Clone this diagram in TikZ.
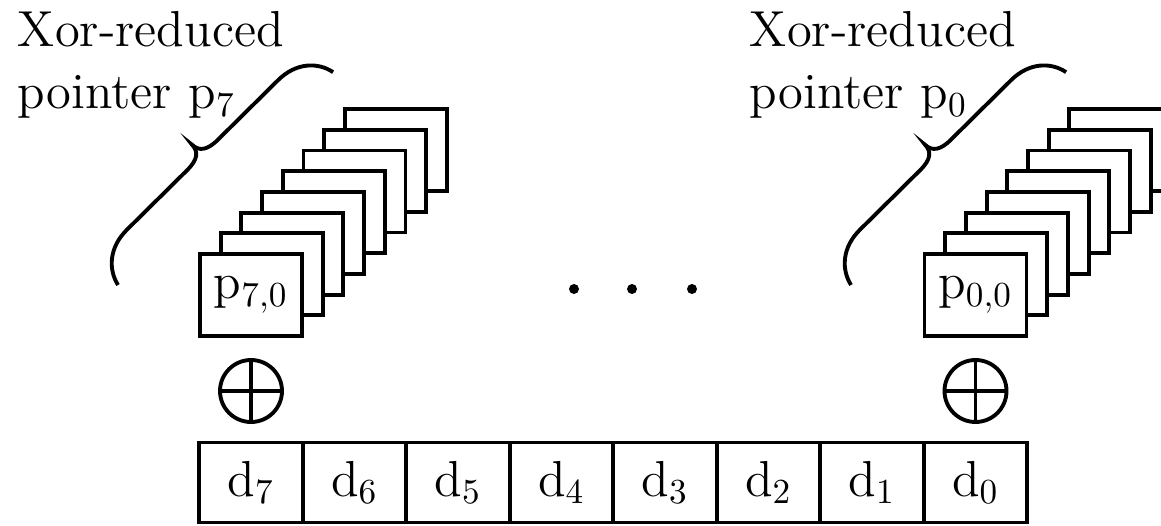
\documentclass[tikz,border=0pt]{standalone}
\begin{document}
\begin{tikzpicture}[line width=1.1pt, font=\fontsize{14.4}{17.9}\selectfont,
  ptrbox/.style={draw, fill=white, minimum width=1.02cm, minimum height=0.82cm, inner sep=0pt},
  cell/.style={draw, minimum width=1.035cm, minimum height=0.80cm, inner sep=0pt, outer sep=0pt},
  xorop/.style={draw, circle, minimum size=0.62cm, inner sep=0pt,
    path picture={\draw (path picture bounding box.north) -- (path picture bounding box.south)
      (path picture bounding box.west) -- (path picture bounding box.east);}}]
  \useasboundingbox (0,0) rectangle (11.61,5.25);
  \clip (0,0) rectangle (11.61,5.25);
  % data word
  \foreach \i in {0,...,7}
    \node[cell] (d\i) at ({2.51+1.035*(7-\i)}, 0.425) {d$_\i$};
  % stacks of pointer words
  \foreach \s/\x in {7/2.51, 0/9.755} {
    \foreach \k in {7,...,1}
      \node[ptrbox] (p\s-\k) at ({\x+0.207*\k}, {2.30+0.207*\k}) {};
    \node[ptrbox] (p\s-0) at (\x, 2.30) {p$_{\s,0}$};
    \node[xorop] (x\s) at (\x, 1.34) {};
  }
  \foreach \x in {5.74, 6.32, 6.92}
    \fill (\x, 2.36) circle (0.05);
  % braces
  \foreach \bx in {1.18, 8.51}
    \draw[shift={(\bx,2.40)}, rotate=44.7] (0,0) .. controls (0.04,0.18) and (0.20,0.33) .. (0.45,0.33)
      -- (1.30,0.33) .. controls (1.45,0.33) and (1.51,0.38) .. (1.513,0.476)
      .. controls (1.516,0.38) and (1.58,0.33) .. (1.73,0.33) -- (2.58,0.33)
      .. controls (2.83,0.33) and (2.99,0.18) .. (3.026,0);
  \node[anchor=north west, align=left, inner sep=0pt] (lbl7) at (0.16, 5.16) {Xor-reduced\\pointer p$_7$};
  \node[anchor=north west, align=left, inner sep=0pt] (lbl0) at (7.48, 5.16) {Xor-reduced\\pointer p$_0$};
\end{tikzpicture}
\end{document}
